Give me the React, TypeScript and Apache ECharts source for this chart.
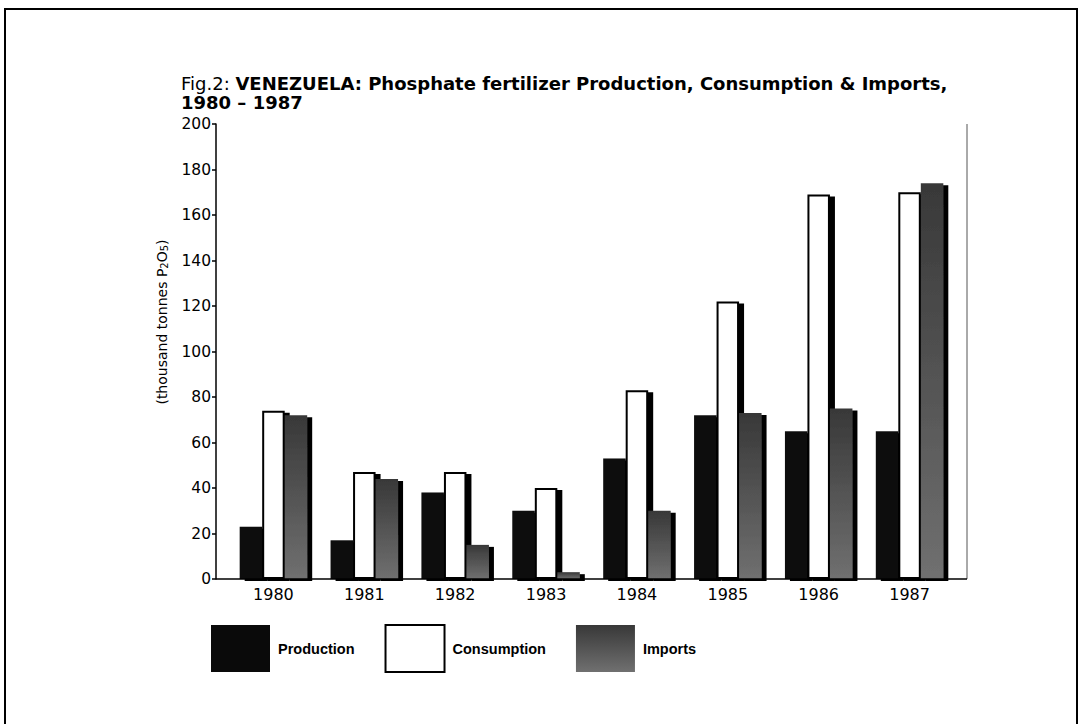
import React, { useEffect, useRef } from "react";
import * as echarts from "echarts";

const years = ["1980", "1981", "1982", "1983", "1984", "1985", "1986", "1987"];
const production = [23, 17, 38, 30, 53, 72, 65, 65];
const consumption = [74, 47, 47, 40, 83, 122, 169, 170];
const imports = [72, 44, 15, 3, 30, 73, 75, 174];
const yTicks = { min: 0, max: 200, interval: 20 };

const FONT = "'DejaVu Sans', 'Liberation Sans', Arial, sans-serif";
const LFONT = "'Liberation Sans', Arial, Helvetica, sans-serif";

export default function App() {
  const ref = useRef<HTMLDivElement>(null);
  useEffect(() => {
    if (!ref.current) return;
    const chart = echarts.init(ref.current, null, { renderer: "svg" });
    const barShadow = {
      shadowBlur: 0,
      shadowOffsetX: 5,
      shadowOffsetY: 2,
      shadowColor: "#000",
    };
    const option: any = {
      animation: false,
      backgroundColor: "#fff",
      textStyle: { fontFamily: FONT },
      title: {
        left: 181,
        top: 74,
        padding: 0,
        text:
          "{a|Fig.2: }{b|VENEZUELA: Phosphate fertilizer Production, Consumption & Imports,}\n{b|1980 – 1987}",
        textStyle: {
          rich: {
            a: { fontFamily: FONT, fontSize: 18, fontWeight: "normal", color: "#000", lineHeight: 19 },
            b: { fontFamily: FONT, fontSize: 18, fontWeight: "bold", color: "#000", lineHeight: 19 },
          },
        },
      },
      legend: {
        left: 211,
        top: 624,
        padding: 0,
        itemWidth: 59,
        itemHeight: 47,
        itemGap: 30,
        icon: "rect",
        textStyle: { fontFamily: LFONT, fontSize: 14.5, fontWeight: "bold", color: "#000", padding: [0, 0, 4, 3] },
        itemStyle: { shadowBlur: 0, shadowOffsetX: 0, shadowOffsetY: 0, shadowColor: "rgba(0,0,0,0)" },
        data: ["Production", "Consumption", "Imports"],
      },
      grid: { left: 228, right: 127, top: 124, bottom: 145 },
      xAxis: {
        type: "category",
        data: years,
        axisLine: { show: false },
        axisTick: { show: false },
        axisLabel: { fontFamily: FONT, fontSize: 16, color: "#000", margin: 7 },
      },
      yAxis: {
        type: "value",
        min: yTicks.min,
        max: yTicks.max,
        interval: yTicks.interval,
        offset: 12,
        splitLine: { show: false },
        axisLine: { show: true, lineStyle: { color: "#000", width: 1.5 } },
        axisTick: { show: true, length: 4, lineStyle: { color: "#000", width: 1.5 } },
        axisLabel: { fontFamily: FONT, fontSize: 15.5, color: "#000", margin: 5 },
      },
      series: [
        {
          name: "Production",
          type: "bar",
          data: production,
          barWidth: 22.5,
          barGap: "0%",
          itemStyle: { color: "#0a0a0a", ...barShadow },
        },
        {
          name: "Consumption",
          type: "bar",
          data: consumption,
          barWidth: 22.5,
          barGap: "0%",
          itemStyle: { color: "#fff", borderColor: "#000", borderWidth: 2, ...barShadow },
        },
        {
          name: "Imports",
          type: "bar",
          data: imports,
          barWidth: 22.5,
          barGap: "0%",
          itemStyle: {
            color: new echarts.graphic.LinearGradient(0, 0, 0, 1, [
              { offset: 0, color: "#383838" },
              { offset: 1, color: "#707070" },
            ]),
            ...barShadow,
          },
        },
      ],
      graphic: [
        {
          type: "rect",
          shape: { x: 5, y: 9, width: 1072, height: 730 },
          style: { fill: "none", stroke: "#000", lineWidth: 2 },
          silent: true,
        },
        {
          type: "line",
          shape: { x1: 216, y1: 579, x2: 967, y2: 579 },
          style: { stroke: "#000", lineWidth: 1.5 },
          z: 10,
          silent: true,
        },
        {
          type: "line",
          shape: { x1: 967, y1: 124, x2: 967, y2: 579 },
          style: { stroke: "#555", lineWidth: 1 },
          silent: true,
        },
        {
          type: "text",
          x: 160,
          y: 322,
          rotation: Math.PI / 2,
          style: {
            text: "{n|(thousand tonnes P}{s|2}{n|O}{s|5}{n|)}",
            align: "center",
            verticalAlign: "middle",
            rich: {
              n: { fontFamily: FONT, fontSize: 14, color: "#000", lineHeight: 18, verticalAlign: "bottom" },
              s: { fontFamily: FONT, fontSize: 10, color: "#000", lineHeight: 14, verticalAlign: "bottom" },
            },
          },
          silent: true,
        },
      ],
    };
    chart.setOption(option);
    return () => chart.dispose();
  }, []);
  return (
    <div
      ref={ref}
      style={{ position: "fixed", left: 0, top: 0, width: 1082, height: 724, background: "#fff" }}
    />
  );
}
